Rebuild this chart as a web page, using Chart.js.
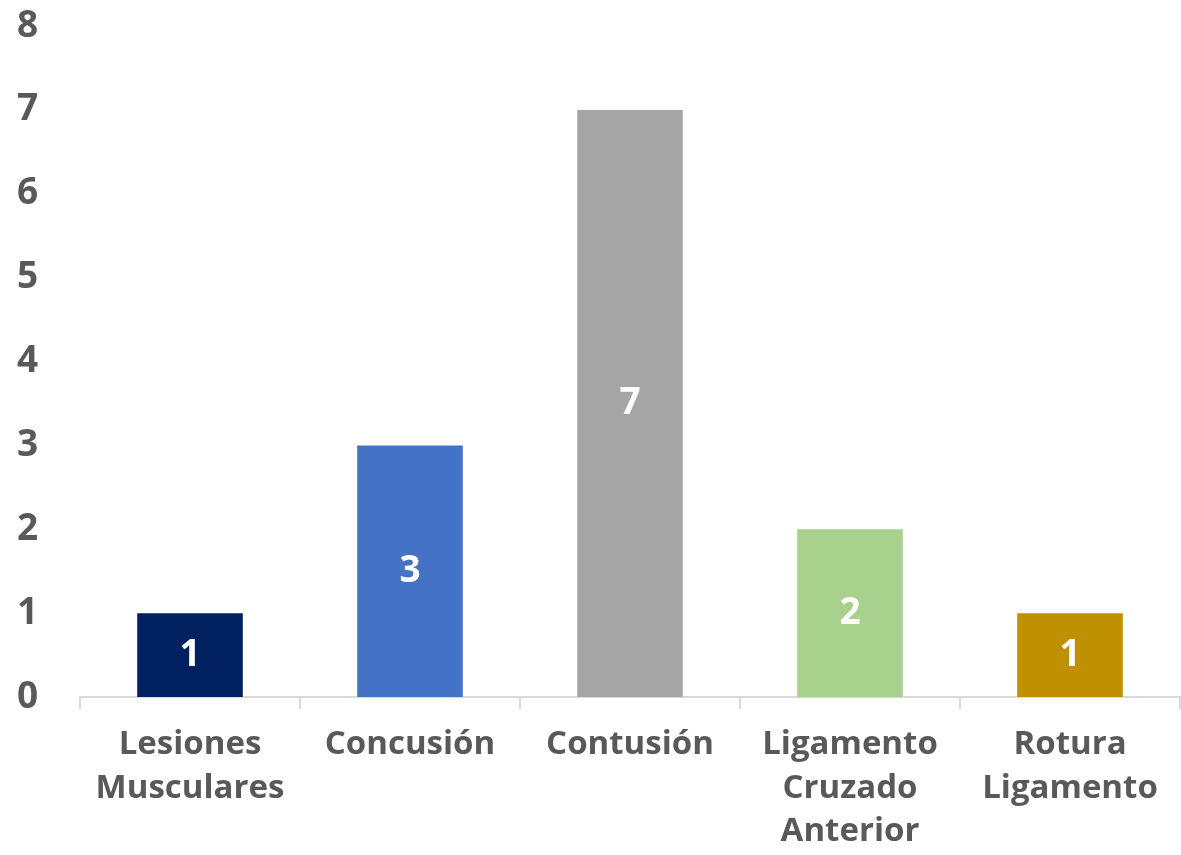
<!DOCTYPE html>
<html>
<head>
<meta charset="utf-8">
<script src="https://cdn.jsdelivr.net/npm/chart.js@4/dist/chart.umd.min.js"></script>
<style>
  html,body{margin:0;padding:0;background:#fff;}
  #grafico{display:block;}
</style>
</head>
<body>
<canvas id="grafico" width="1181" height="855"></canvas>
<script>
let categorias=[["Lesiones","Musculares"],"Concusión","Contusión",["Ligamento","Cruzado","Anterior"],["Rotura","Ligamento"]]
let lesiones=[1,3,7,2,1]
let colores=["#002060","#4472C4","#A5A5A5","#A9D18E","#BF9000"]
let ticksY=[0,1,2,3,4,5,6,7,8]

let fuente="'Open Sans', sans-serif"
let gris="#595959"

// etiquetas blancas en el centro de cada barra
let etiquetas={
  id:"etiquetas",
  afterDatasetsDraw(chart){
    let ctx=chart.ctx
    chart.getDatasetMeta(0).data.forEach((bar,i)=>{
      ctx.save()
      ctx.fillStyle="#ffffff"
      ctx.font="bold 37px "+fuente
      ctx.textAlign="center"
      ctx.textBaseline="middle"
      ctx.fillText(lesiones[i],bar.x,(bar.y+bar.base)/2)
      ctx.restore()
    })
  }
}

new Chart("grafico",{
  type:"bar",
  data:{
    labels:categorias,
    datasets:[{
      data:lesiones,
      backgroundColor:colores,
      barPercentage:0.48,
      categoryPercentage:1
    }]
  },
  options:{
    responsive:false,
    animation:false,
    layout:{padding:{top:26,right:1,left:17,bottom:0}},
    plugins:{legend:{display:false},tooltip:{enabled:false}},
    scales:{
      y:{
        min:0,max:8,
        afterFit(s){s.width=63},
        afterBuildTicks(s){s.ticks=ticksY.map(v=>({value:v}))},
        grid:{display:false,drawTicks:false},
        border:{display:false},
        ticks:{padding:0,crossAlign:"far",color:gris,font:{family:fuente,size:37,weight:"bold",lineHeight:1}}
      },
      x:{
        afterFit(s){s.height=158},
        grid:{display:true,drawOnChartArea:false,tickLength:12,color:"#d9d9d9",lineWidth:2},
        border:{display:true,color:"#d9d9d9",width:2},
        ticks:{padding:14,color:gris,maxRotation:0,font:{family:fuente,size:33,weight:"bold",lineHeight:1.32}}
      }
    }
  },
  plugins:[etiquetas]
})
</script>
</body>
</html>
